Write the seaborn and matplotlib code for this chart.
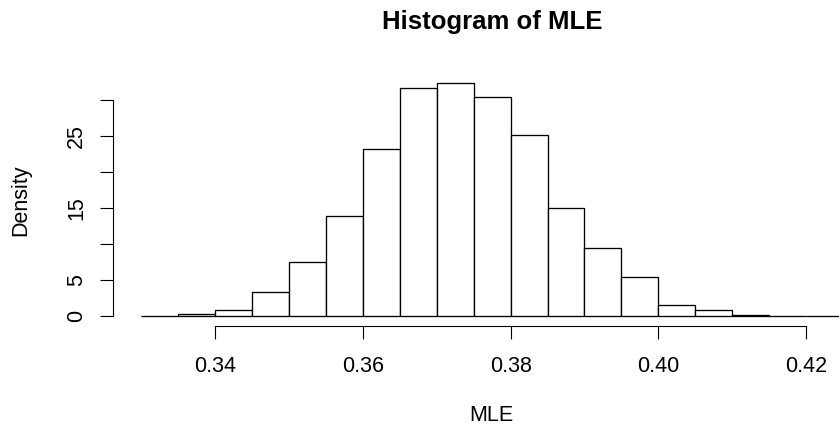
import numpy as np
import pandas as pd
import matplotlib
matplotlib.use("Agg")
import matplotlib.pyplot as plt
import seaborn as sns

# Histogram bin edges (width 0.005) and density per bin
bin_edges = [0.330, 0.335, 0.340, 0.345, 0.350, 0.355, 0.360, 0.365, 0.370, 0.375,
             0.380, 0.385, 0.390, 0.395, 0.400, 0.405, 0.410, 0.415, 0.420, 0.425]
densities = [0.01, 0.32, 0.79, 3.3, 7.5, 13.9, 23.2, 31.7, 32.3, 30.4,
             25.2, 15.0, 9.4, 5.5, 1.57, 0.79, 0.23, 0.05, 0.02]
x_ticks = [0.34, 0.36, 0.38, 0.40, 0.42]
x_tick_labels = ["0.34", "0.36", "0.38", "0.40", "0.42"]
y_ticks = [0, 5, 10, 15, 20, 25, 30]
y_tick_labels = ["0", "5", "", "15", "", "25", ""]
title = "Histogram of MLE"
x_label = "MLE"
y_label = "Density"

centers = [(a + b) / 2 for a, b in zip(bin_edges[:-1], bin_edges[1:])]
df = pd.DataFrame({"MLE": centers, "Density": densities})

sns.set_theme(style="white")
plt.rcParams["font.family"] = ["Liberation Sans", "DejaVu Sans"]

W, H = 839, 428
fig = plt.figure(figsize=(W / 100, H / 100), dpi=100)
# plot region in pixels (R-like), extends past the right edge
left_px, right_px, top_px, bottom_px = 113.3, 871.0, 74.0, 325.5
ax = fig.add_axes([left_px / W, 1 - bottom_px / H,
                   (right_px - left_px) / W, (bottom_px - top_px) / H])

sns.histplot(data=df, x="MLE", weights="Density", bins=bin_edges, stat="count",
             color="white", edgecolor="black", linewidth=0.95, alpha=1.0, ax=ax)

span_x = bin_edges[-1] - bin_edges[0]
ax.set_xlim(bin_edges[0] - 0.04 * span_x, bin_edges[-1] + 0.04 * span_x)
ymax = max(densities)
ax.set_ylim(-0.04 * ymax, ymax * 1.04)

for s in ["top", "right"]:
    ax.spines[s].set_visible(False)
for s in ["left", "bottom"]:
    ax.spines[s].set_visible(True)
    ax.spines[s].set_color("black")
    ax.spines[s].set_linewidth(0.8)
ax.spines["bottom"].set_bounds(x_ticks[0], x_ticks[-1])
ax.spines["left"].set_bounds(y_ticks[0], y_ticks[-1])

ax.set_xticks(x_ticks)
ax.set_xticklabels(x_tick_labels)
ax.set_yticks(y_ticks)
ax.set_yticklabels(y_tick_labels, rotation=90, va="center")
ax.tick_params(axis="both", which="major", direction="out", length=9.4, width=0.8,
               color="black", labelsize=15.5, labelcolor="black",
               bottom=True, left=True)
ax.tick_params(axis="x", pad=12.5)
ax.tick_params(axis="y", pad=9.5)
ax.set_xlabel("")
ax.set_ylabel("")
ax.grid(False)

fig.text(492 / W, 1 - 29 / H, title, ha="center", va="baseline",
         fontsize=18.5, fontweight="bold", color="black")
fig.text(491 / W, 2.0 / H, x_label, ha="center", va="bottom",
         fontsize=15.5, color="black")
fig.text(20.5 / W, 1 - 199.8 / H, y_label, ha="center", va="center",
         rotation=90, fontsize=15.5, color="black")

fig.savefig("out.png", dpi=100, facecolor="white")
